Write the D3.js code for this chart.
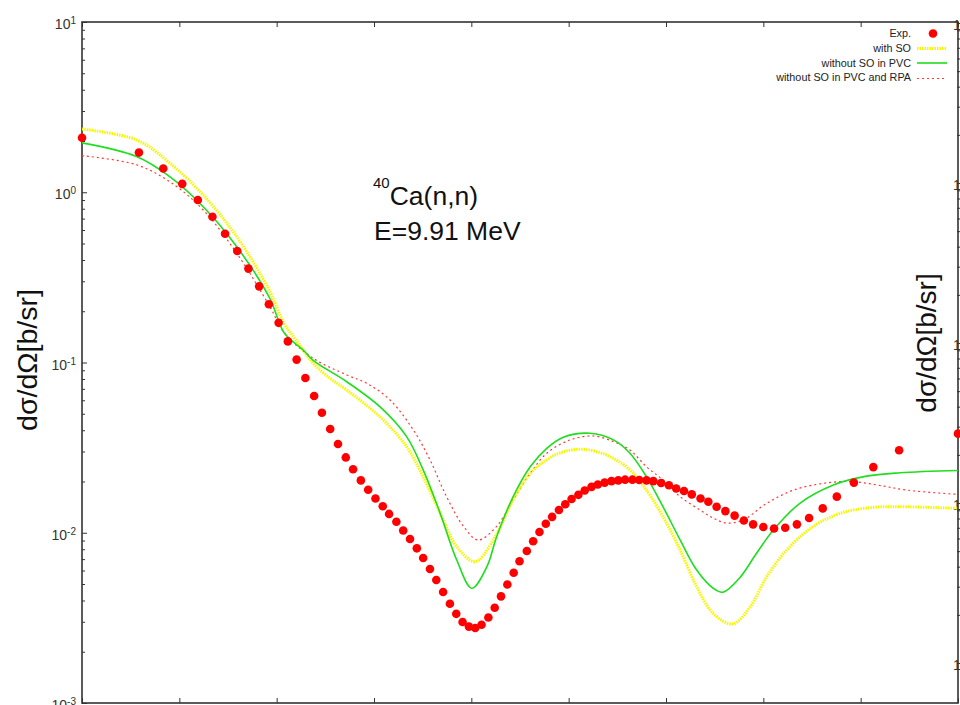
<!DOCTYPE html>
<head>
  <style>
    body { margin: 0; background: #fff; }
    svg { display: block; }
  </style>
</head>
<body>
<svg id="chart" width="960" height="705" font-family="Liberation Sans, Arial, sans-serif"></svg>
<script src="https://d3js.org/d3.v7.min.js"></script>
<script>

// experimental points (angle in deg, cross section in b/sr)
var expAngle = [0, 11.7, 16.7, 20.6, 23.8, 26.8, 29.4, 31.9, 34.2, 36.4,
  38.4, 40.4, 42.3, 44.1, 45.9, 47.7, 49.3, 51.0, 52.6, 54.2,
  55.7, 57.3, 58.8, 60.3, 61.8, 63.1, 64.6, 66.0, 67.4, 68.8,
  70.1, 71.5, 72.8, 74.2, 75.6, 76.9, 78.2, 79.5, 80.8, 82.1,
  83.5, 84.8, 86.1, 87.4, 88.7, 89.9, 91.4, 92.7, 94.0, 95.3,
  96.6, 98.0, 99.3, 100.6, 102.0, 103.3, 104.7, 106.0, 107.4, 108.8,
  110.2, 111.6, 113.1, 114.5, 116.0, 117.4, 119.0, 120.6, 122.1, 123.7,
  125.3, 127.1, 128.7, 130.4, 132.2, 134.1, 136.0, 137.9, 140.0, 142.2,
  144.5, 146.9, 149.4, 152.2, 155.1, 158.6, 162.6, 167.9, 180];
var expValue = [2.09, 1.71, 1.38, 1.12, 0.901, 0.718, 0.571, 0.452, 0.356, 0.280,
  0.220, 0.171, 0.133, 0.104, 0.0811, 0.0636, 0.0507, 0.0407, 0.0332, 0.0277,
  0.0236, 0.0203, 0.0179, 0.0159, 0.0143, 0.0129, 0.0116, 0.0103, 0.00919, 0.00810,
  0.00711, 0.00612, 0.00528, 0.00449, 0.00383, 0.00334, 0.00299, 0.00281, 0.00276, 0.00288,
  0.00318, 0.00363, 0.00423, 0.00497, 0.00582, 0.00680, 0.00781, 0.00891, 0.0101, 0.0113,
  0.0124, 0.0136, 0.0147, 0.0158, 0.0167, 0.0177, 0.0186, 0.0192, 0.0197, 0.0201,
  0.0203, 0.0205, 0.0205, 0.0204, 0.0203, 0.0201, 0.0196, 0.0190, 0.0182, 0.0176,
  0.0168, 0.0159, 0.0152, 0.0142, 0.0134, 0.0126, 0.0118, 0.0112, 0.0108, 0.0106,
  0.0107, 0.0112, 0.0122, 0.0139, 0.0163, 0.0197, 0.0243, 0.0305, 0.0382];

// with SO (yellow)
var soAngle = [0, 11.2, 18.1, 24.9, 31.8, 38.6, 41.5, 44.1, 47.5, 51.0, 54.4, 61.2, 66.7, 70.1,
  73.6, 77.0, 80.8, 84.5, 88.6, 92.1, 95.5, 98.9, 103.0, 107.8, 112.6, 116.0, 119.4,
  122.9, 126.3, 129.7, 133.7, 137.3, 140.7, 144.8, 150.3, 155.8, 162.6, 169.5, 180];
var soValue = [2.35, 2.03, 1.48, 0.963, 0.548, 0.262, 0.170, 0.134, 0.0989, 0.0808, 0.0690, 0.0480, 0.0320, 0.0213,
  0.0130, 0.00828, 0.00676, 0.00907, 0.0156, 0.0223, 0.0268, 0.0299, 0.0309, 0.0286, 0.0234, 0.0178, 0.0124,
  0.00792, 0.00482, 0.00336, 0.00291, 0.00368, 0.00552, 0.00792, 0.0109, 0.0130, 0.0141, 0.0142, 0.0139];

// without SO in PVC (green)
var pvcAngle = [0, 11.2, 18.1, 24.9, 31.8, 38.6, 41.5, 45.5, 47.5, 54.4, 61.2, 66.7, 70.1, 73.6,
  77.0, 80.1, 83.2, 85.2, 88.6, 92.1, 95.5, 98.9, 104.4, 109.2, 112.6, 116.0, 119.4,
  122.9, 126.3, 129.7, 131.7, 135.2, 138.6, 142.1, 147.5, 154.4, 161.2, 168.1, 180];
var pvcValue = [1.95, 1.62, 1.23, 0.822, 0.479, 0.238, 0.150, 0.118, 0.103, 0.0771, 0.0550, 0.0367, 0.0234, 0.0130,
  0.00692, 0.00472, 0.00632, 0.00948, 0.0163, 0.0244, 0.0313, 0.0364, 0.0384, 0.0351, 0.0293, 0.0213, 0.0142,
  0.00907, 0.00604, 0.00472, 0.00447, 0.00546, 0.00757, 0.0104, 0.0149, 0.0191, 0.0215, 0.0225, 0.0232];

// without SO in PVC and RPA (red dotted)
var rpaAngle = [0, 11.2, 18.1, 24.9, 31.8, 38.6, 41.5, 47.5, 54.4, 58.5, 63.3, 68.1, 71.5, 74.9,
  78.4, 81.4, 85.2, 88.6, 92.1, 95.5, 100.3, 105.1, 109.2, 112.6, 116.0, 119.4, 122.9,
  127.0, 129.7, 132.5, 135.9, 140.7, 146.2, 152.3, 157.8, 163.3, 169.5, 180];
var rpaValue = [1.64, 1.45, 1.15, 0.787, 0.438, 0.213, 0.150, 0.106, 0.0845, 0.0755, 0.0602, 0.0401, 0.0268, 0.0163,
  0.0109, 0.00907, 0.0109, 0.0156, 0.0223, 0.0293, 0.0351, 0.0370, 0.0343, 0.0306, 0.0244, 0.0204, 0.0163,
  0.0136, 0.0122, 0.0114, 0.0119, 0.0149, 0.0178, 0.0195, 0.0200, 0.0191, 0.0178, 0.0168];

var xTicks = [0, 20, 40, 60, 80, 100, 120, 140, 160, 180];
var yPowers = [1, 0, -1, -2, -3];
var legendLabels = ["Exp.", "with SO", "without SO in PVC", "without SO in PVC and RPA"];

var svg = d3.select("svg");

var x = d3.scaleLinear().domain([0, 180]).range([82, 958]);
var y = d3.scaleLog().domain([1e-3, 10]).range([703, 22]);
// neighbouring panel axis peeking in at the right edge
var y2 = d3.scaleLog().domain([1e-3, 10]).range([663, 23]);

var minors = [];
yPowers.forEach(function(p) {
  for (var k = 2; k <= 9; k++) { if (p < 1) minors.push(k * Math.pow(10, p)); }
});
var majors = yPowers.map(function(p) { return Math.pow(10, p); });

svg.append("defs").append("clipPath").attr("id", "plotclip")
  .append("rect").attr("x", 82).attr("y", 22).attr("width", 876).attr("height", 681);

// axes (ticks inside, gnuplot style)
function styleAxis(g) {
  g.select(".domain").remove();
  g.selectAll("line").attr("stroke", "#333").attr("stroke-width", 1);
  g.selectAll("text").remove();
}
svg.append("g").attr("transform", "translate(82,0)")
  .call(d3.axisLeft(y).tickValues(majors).tickSize(-5)).call(styleAxis);
svg.append("g").attr("transform", "translate(82,0)")
  .call(d3.axisLeft(y).tickValues(minors).tickSize(-3)).call(styleAxis);
svg.append("g").attr("transform", "translate(0,22)")
  .call(d3.axisTop(x).tickValues(xTicks).tickSize(-5)).call(styleAxis);
svg.append("g").attr("transform", "translate(0,703)")
  .call(d3.axisBottom(x).tickValues(xTicks).tickSize(-5)).call(styleAxis);
svg.append("g").attr("transform", "translate(957,0)")
  .call(d3.axisRight(y2).tickValues(minors.concat(majors)).tickSize(3)).call(styleAxis);

svg.append("rect")
  .attr("x", 82).attr("y", 22).attr("width", 876).attr("height", 681)
  .attr("fill", "none").attr("stroke", "#333").attr("stroke-width", 1.6);

// left tick labels 10^n
var lab = svg.selectAll(".ylab").data(yPowers).enter().append("text")
  .attr("class", "ylab")
  .attr("x", 76).attr("y", function(d) { return y(Math.pow(10, d)) + 7; })
  .attr("text-anchor", "end").attr("fill", "#333").attr("font-size", 14);
lab.append("tspan").text("10");
lab.append("tspan").attr("dy", -5).attr("font-size", 10).text(function(d) { return d; });

// right panel tick labels (cut by the edge)
svg.selectAll(".y2lab").data(yPowers).enter().append("text")
  .attr("x", 953).attr("y", function(d) { return y2(Math.pow(10, d)) + 7; })
  .attr("fill", "#333").attr("font-size", 14).text("10");

// axis titles
svg.append("text").attr("transform", "translate(37,360) rotate(-90)")
  .attr("text-anchor", "middle").attr("font-size", 28.5).attr("fill", "#111")
  .text("dσ/dΩ[b/sr]");
svg.append("text").attr("transform", "translate(936,343) rotate(-90)")
  .attr("text-anchor", "middle").attr("font-size", 28).attr("fill", "#111")
  .text("dσ/dΩ[b/sr]");

// curves
var line = d3.line()
  .x(function(d) { return x(d[0]); })
  .y(function(d) { return y(d[1]); })
  .curve(d3.curveCatmullRom.alpha(0.5));

var plot = svg.append("g").attr("clip-path", "url(#plotclip)");

plot.append("path").datum(d3.zip(rpaAngle, rpaValue))
  .attr("d", line).attr("fill", "none")
  .attr("stroke", "#ff3838").attr("stroke-width", 1.2).attr("stroke-dasharray", "2,3");
plot.append("path").datum(d3.zip(soAngle, soValue))
  .attr("d", line).attr("fill", "none")
  .attr("stroke", "#f6f600").attr("stroke-width", 3).attr("stroke-dasharray", "1.5,1");
plot.append("path").datum(d3.zip(pvcAngle, pvcValue))
  .attr("d", line).attr("fill", "none")
  .attr("stroke", "#1ede1e").attr("stroke-width", 1.6);

svg.append("g").selectAll("circle").data(d3.zip(expAngle, expValue)).enter().append("circle")
  .attr("cx", function(d) { return x(d[0]); })
  .attr("cy", function(d) { return y(d[1]); })
  .attr("r", 4.3).attr("fill", "#ff0000");

// title
var t1 = svg.append("text").attr("x", 373).attr("y", 205).attr("font-size", 26.5).attr("fill", "#111");
t1.append("tspan").attr("font-size", 15).attr("dy", -17).text("40");
t1.append("tspan").attr("dy", 17).text("Ca(n,n)");
svg.append("text").attr("x", 374).attr("y", 240).attr("font-size", 26.5).attr("fill", "#111")
  .text("E=9.91 MeV");

// legend
var legY = [37, 52, 66.5, 81];
svg.selectAll(".leg").data(legendLabels).enter().append("text")
  .attr("x", 911).attr("y", function(d, i) { return legY[i]; })
  .attr("text-anchor", "end").attr("font-size", 10.8).attr("fill", "#222")
  .text(function(d) { return d; });
svg.append("circle").attr("cx", 933).attr("cy", 33.5).attr("r", 4.3).attr("fill", "#ff0000");
svg.append("line").attr("x1", 917).attr("x2", 947).attr("y1", 48.5).attr("y2", 48.5)
  .attr("stroke", "#f6f600").attr("stroke-width", 3).attr("stroke-dasharray", "1.5,1");
svg.append("line").attr("x1", 917).attr("x2", 947).attr("y1", 63).attr("y2", 63)
  .attr("stroke", "#1ede1e").attr("stroke-width", 1.6);
svg.append("line").attr("x1", 917).attr("x2", 947).attr("y1", 78.5).attr("y2", 78.5)
  .attr("stroke", "#ff3838").attr("stroke-width", 1.2).attr("stroke-dasharray", "2,3");

</script>
</body>
